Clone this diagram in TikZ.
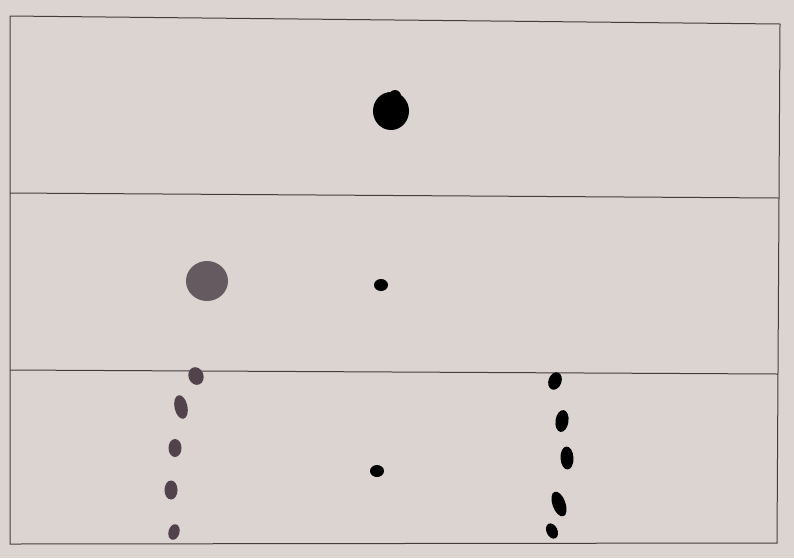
\documentclass[tikz,border=0pt]{standalone}
\begin{document}
\begin{tikzpicture}[x=1pt,y=-1pt,
  frame/.style={draw=framecol,line width=1pt},
  bdot/.style={fill=black},
  gdot/.style={fill=graydot},
  ldot/.style={fill=leftdot}]
\definecolor{paper}{RGB}{219,212,209}
\definecolor{framecol}{RGB}{70,60,60}
\definecolor{graydot}{RGB}{100,90,95}
\definecolor{leftdot}{RGB}{82,66,76}
\fill[paper] (0,0) rectangle (794,558);
\useasboundingbox (0,0) rectangle (794,558);
% frame
\coordinate (tl) at (10,16);
\coordinate (tr) at (780,24);
\coordinate (br) at (777,543);
\coordinate (bl) at (10,544);
\coordinate (m1l) at (10,193);
\coordinate (m1r) at (779,198);
\coordinate (m2l) at (10,370);
\coordinate (m2r) at (778,374);
\draw[frame] (tl) -- (tr) -- (br) -- (bl) -- cycle;
\draw[frame] (m1l) -- (m1r);
\draw[frame] (m2l) -- (m2r);
% top panel
\fill[bdot] (391,111) ellipse [x radius=18, y radius=19];
\fill[bdot] (395,96) circle (6);
% middle panel
\fill[gdot] (207,281) ellipse [x radius=21, y radius=20];
\fill[bdot] (381,285) ellipse [x radius=7, y radius=6];
% bottom panel
\fill[bdot] (377,471) ellipse [x radius=7, y radius=6];
% left column
\fill[ldot,rotate around={20:(196,376)}] (196,376) ellipse [x radius=7.5, y radius=9];
\fill[ldot,rotate around={12:(181,407)}] (181,407) ellipse [x radius=6.5, y radius=12];
\fill[ldot] (175,448) ellipse [x radius=6.5, y radius=9];
\fill[ldot] (171,490) ellipse [x radius=6.5, y radius=9.5];
\fill[ldot,rotate around={-15:(174,532)}] (174,532) ellipse [x radius=5.5, y radius=8];
% right column
\fill[bdot,rotate around={-20:(555,381)}] (555,381) ellipse [x radius=6.5, y radius=9];
\fill[bdot,rotate around={-8:(562,421)}] (562,421) ellipse [x radius=6.5, y radius=11];
\fill[bdot,rotate around={3:(567,458)}] (567,458) ellipse [x radius=6.5, y radius=11.5];
\fill[bdot,rotate around={20:(559,504)}] (559,504) ellipse [x radius=6.5, y radius=13];
\fill[bdot,rotate around={25:(552,531)}] (552,531) ellipse [x radius=5.5, y radius=8];
\end{tikzpicture}
\end{document}
